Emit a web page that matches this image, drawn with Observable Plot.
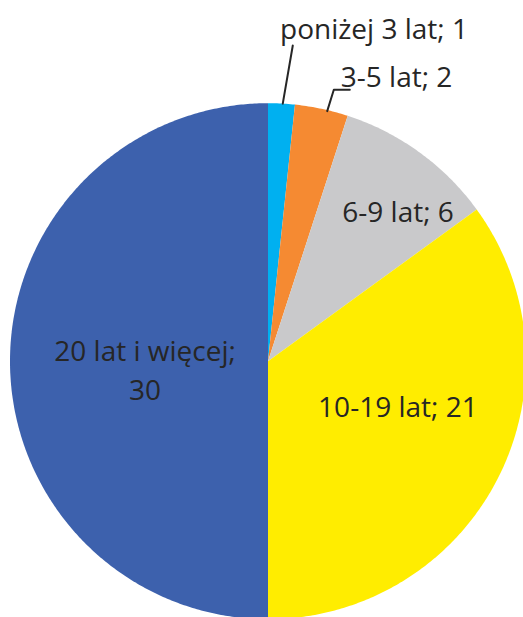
<!DOCTYPE html>
<html>
<head>
<meta charset="utf-8">
<script src="https://cdn.jsdelivr.net/npm/d3@7"></script>
<script src="https://cdn.jsdelivr.net/npm/@observablehq/plot@0.6"></script>
<style>
  html, body { margin: 0; padding: 0; background: #ffffff; overflow: hidden; }
  #chart svg { display: block; overflow: hidden; }
</style>
</head>
<body>
<div id="chart"></div>
<script>
// ---- data ----
const categories = ["poniżej 3 lat", "3-5 lat", "6-9 lat", "10-19 lat", "20 lat i więcej"];
const values = [1, 2, 6, 21, 30];
const colors = ["#00B0F0", "#F58A32", "#C9C9CB", "#FFED00", "#3D61AD"];

// ---- layout (label placement relative to each slice's mid angle, radius in units of pie radius) ----
const labelRadius = [1.361, 1.217, 0.774, 0.531, 0.477];
const labelAngleOffset = [14.57, 12.17, 4.65, -8.46, -3.03]; // degrees
const labelWrap = [false, false, false, false, true];
const leaderPaths = [
  [{r: 1.0, da: 0.28}, {r: 1.2275, da: 1.49}],
  [{r: 0.996, da: 1.32}, {r: 1.0825, da: 1.63}, {r: 1.099, da: 4.77}]
];

const W = 523, H = 617;
const cx = 267.5, cy = 360.7, R = 258;

const pie = d3.pie().sort(null).value(d => d.value).startAngle(0).endAngle(2 * Math.PI);
const rows = categories.map((c, i) => ({label: c, value: values[i], index: i}));
const arcs = pie(rows);

const polar = (r, a) => ({x: r * Math.sin(a), y: r * Math.cos(a)});
const rad = d => d * Math.PI / 180;

// slice polygons
const slicePts = [];
for (const a of arcs) {
  const n = Math.max(4, Math.ceil((a.endAngle - a.startAngle) / rad(0.5)));
  slicePts.push({label: a.data.label, ...polar(0, 0)});
  for (let k = 0; k <= n; k++) {
    const ang = a.startAngle + (a.endAngle - a.startAngle) * k / n;
    slicePts.push({label: a.data.label, ...polar(1, ang)});
  }
}

// labels
const labels = arcs.map((a, i) => {
  const mid = (a.startAngle + a.endAngle) / 2 + rad(labelAngleOffset[i]);
  const text = a.data.label + ";" + (labelWrap[i] ? "\n" : " ") + a.data.value;
  return {text, ...polar(labelRadius[i], mid)};
});

// leader lines
const leaderPts = [];
leaderPaths.forEach((path, i) => {
  const a = arcs[i];
  const mid = (a.startAngle + a.endAngle) / 2;
  path.forEach(p => leaderPts.push({id: i, ...polar(p.r, mid + rad(p.da))}));
});

const chart = Plot.plot({
  width: W,
  height: H,
  marginLeft: 0, marginRight: 0, marginTop: 0, marginBottom: 0,
  style: {fontFamily: "'Open Sans', sans-serif", background: "#ffffff"},
  x: {domain: [-cx / R, (W - cx) / R], axis: null},
  y: {domain: [-(H - cy) / R, cy / R], axis: null},
  color: {domain: categories, range: colors},
  marks: [
    Plot.line(slicePts, {x: "x", y: "y", z: "label", fill: "label", stroke: "none", curve: "linear-closed"}),
    Plot.line(leaderPts, {x: "x", y: "y", z: "id", stroke: "#262626", strokeWidth: 2}),
    Plot.text(labels, {x: "x", y: "y", text: "text", fontSize: 28, lineHeight: 1.39, fill: "#262626", textAnchor: "middle", lineAnchor: "middle"})
  ]
});

document.getElementById("chart").appendChild(chart);
</script>
</body>
</html>
